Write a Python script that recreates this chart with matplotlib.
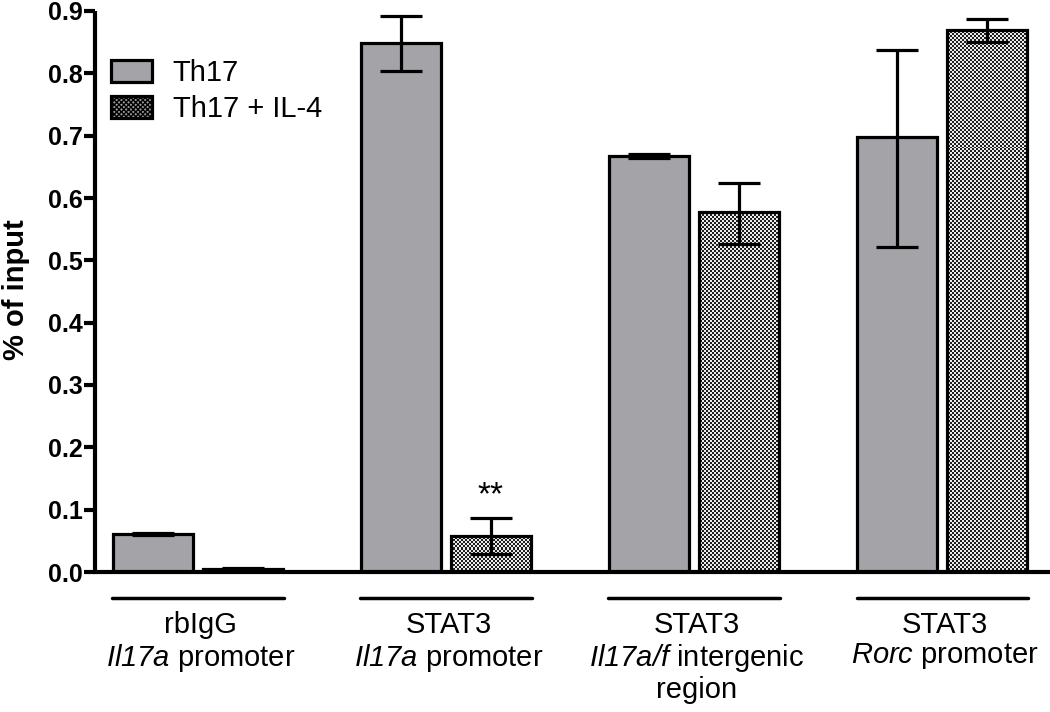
import numpy as np
import matplotlib
matplotlib.use("Agg")
import matplotlib.pyplot as plt
from matplotlib import transforms

plt.rcParams['font.family'] = ['Liberation Sans', 'DejaVu Sans']
plt.rcParams['mathtext.fontset'] = 'custom'
plt.rcParams['mathtext.rm'] = 'Liberation Sans'
plt.rcParams['mathtext.sf'] = 'Liberation Sans:italic'
plt.rcParams['mathtext.it'] = 'Liberation Sans:italic'
plt.rcParams['mathtext.bf'] = 'Liberation Sans:bold'

# ---- data ----
groups = ["rbIgG\n$\\mathsf{Il17a}$ promoter",
          "STAT3\n$\\mathsf{Il17a}$ promoter",
          "STAT3\n$\\mathsf{Il17a/f}$ intergenic\nregion",
          "STAT3\n$\\mathsf{Rorc}$ promoter"]
series = ["Th17", "Th17 + IL-4"]
th17 = [0.061, 0.848, 0.667, 0.698]
th17_err_low = [0.002, 0.045, 0.003, 0.176]
th17_err_high = [0.002, 0.044, 0.003, 0.140]
il4 = [0.005, 0.058, 0.577, 0.869]
il4_err_low = [0.002, 0.029, 0.050, 0.018]
il4_err_high = [0.002, 0.029, 0.047, 0.018]
yticks = [0.0, 0.1, 0.2, 0.3, 0.4, 0.5, 0.6, 0.7, 0.8, 0.9]
star_text = ["", "**", "", ""]

fig = plt.figure(figsize=(10.5, 7.12), dpi=100)
ax = fig.add_axes([95/1050, 1 - 572/712, 953/1050, 561/712])

x = np.arange(len(groups))
off = 0.181
w = 0.322
gray = '#a4a3a8'
lw = 2.3

b1 = ax.bar(x - off, th17, w, color=gray, edgecolor='black', linewidth=lw, zorder=2, label=series[0])
b2 = ax.bar(x + off, il4, w, color='none', edgecolor='black', linewidth=lw, zorder=3, label=series[1])

ax.errorbar(x - off, th17, yerr=[th17_err_low, th17_err_high], fmt='none', ecolor='black',
            elinewidth=2.3, capsize=15, capthick=2.3, zorder=4)
ax.errorbar(x + off, il4, yerr=[il4_err_low, il4_err_high], fmt='none', ecolor='black',
            elinewidth=2.3, capsize=15, capthick=2.3, zorder=4)

xlim = (-0.415, 3.427)
ylim = (0, 0.9)

# checkerboard fill for hatched bars
ny, nx = 281, 477
yy, xx = np.mgrid[0:ny, 0:nx]
checker = ((yy + xx) % 2).astype(float)
for p in b2.patches:
    im = ax.imshow(checker, extent=(xlim[0], xlim[1], ylim[0], ylim[1]), aspect='auto',
                   interpolation='nearest', cmap='gray', vmin=-0.15, vmax=1.1, zorder=2.5)
    im.set_clip_path(p)

ax.set_xlim(*xlim)
ax.set_ylim(*ylim)

# significance stars
for xi, v, e, s in zip(x + off, il4, il4_err_high, star_text):
    if s:
        ax.annotate(s, (xi, v + e), xytext=(0, 5), textcoords='offset points',
                    ha='center', va='bottom', fontsize=24)

# spines
for s in ['top', 'right']:
    ax.spines[s].set_visible(False)
ax.spines['left'].set_linewidth(3)
ax.spines['bottom'].set_linewidth(3)
ax.spines['left'].set_capstyle('butt')

ax.set_yticks(yticks)
ax.set_yticklabels([f"{t:.1f}" for t in yticks], fontsize=18, fontweight='bold')
ax.tick_params(axis='y', length=8, width=3, pad=1)
ax.set_xticks([])
ax.set_ylabel("% of input", fontsize=21, fontweight='bold')
ax.yaxis.set_label_coords(-0.068, 0.503)

# group underlines and labels
trans = transforms.blended_transform_factory(ax.transData, ax.transAxes)
for xi, g in zip(x, groups):
    ax.plot([xi - 0.345, xi + 0.345], [-0.046, -0.046], color='black', lw=2.5,
            transform=trans, clip_on=False, solid_capstyle='round')
    ax.text(xi + 0.01, -0.070, g, transform=trans, ha='center', va='top', fontsize=21,
            linespacing=1.1)

leg = ax.legend(loc='upper left', bbox_to_anchor=(0.005, 0.935), frameon=False,
                fontsize=21, handlelength=1.4, handleheight=0.78, handletextpad=0.7,
                labelspacing=0.27, borderaxespad=0)
h = leg.legend_handles[1]
h.set_facecolor('#9a9a9a')
h.set_hatch('xxxxxxx')

fig.savefig("out.png", dpi=100)
